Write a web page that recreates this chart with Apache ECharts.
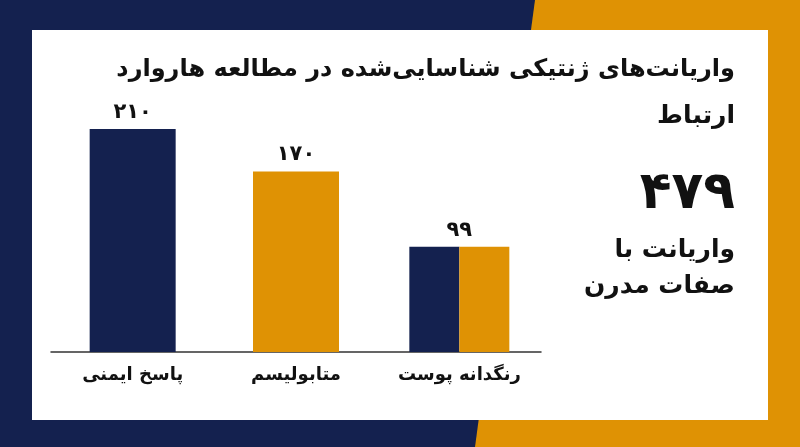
<!DOCTYPE html><html><head><meta charset="utf-8"><script src="https://cdn.jsdelivr.net/npm/echarts@6/dist/echarts.min.js"></script>
<style>html,body{margin:0;padding:0}#c{width:800px;height:447px}</style></head><body><div id="c"></div><script>
const categories=['پاسخ ایمنی','متابولیسم','رنگدانه پوست'];
const values=[210,170,99];
const valueLabels=['۲۱۰','۱۷۰','۹۹'];
const NAVY='#14214f',ORANGE='#df9204';
const F='DejaVu Sans';
const chart=echarts.init(document.getElementById('c'));
chart.setOption({
 backgroundColor:NAVY,
 graphic:[
  {type:'polygon',shape:{points:[[535,0],[800,0],[800,447],[475,447]]},style:{fill:ORANGE},z:-10},
  {type:'rect',shape:{x:32,y:30,width:736,height:390},style:{fill:'#fff'},z:-9},
  {type:'text',right:65,top:58,style:{text:'واریانت‌های ژنتیکی شناسایی‌شده در مطالعه هاروارد',font:'bold 24px '+F,fill:'#111',textAlign:'right'}},
  {type:'text',right:65,top:104,style:{text:'ارتباط',font:'bold 25px '+F,fill:'#111'}},
  {type:'text',right:65,top:168,style:{text:'۴۷۹',font:'bold 52px '+F,fill:'#111'}},
  {type:'text',right:65,top:238,style:{text:'واریانت با',font:'bold 25px '+F,fill:'#111'}},
  {type:'text',right:65,top:274,style:{text:'صفات مدرن',font:'bold 25px '+F,fill:'#111'}}
 ],
 grid:{left:51,width:490,top:129,bottom:95},
 xAxis:[
  {type:'category',data:categories,axisTick:{show:false},axisLine:{lineStyle:{color:'#333',width:1.5}},
   axisLabel:{fontFamily:F,fontWeight:'bold',fontSize:18,color:'#111',margin:14}},
  {type:'category',data:categories,show:false}
 ],
 yAxis:{type:'value',min:0,max:210,show:false,splitLine:{show:false}},
 series:[
  {type:'bar',xAxisIndex:0,barWidth:86,
   data:values.map((v,i)=>({value:v,itemStyle:{color:i===0?NAVY:(i===1?ORANGE:'rgba(0,0,0,0)')}})),
   label:{show:true,position:'top',distance:6,fontFamily:F,fontWeight:'bold',fontSize:21,color:'#111',formatter:p=>valueLabels[p.dataIndex]}},
  {type:'bar',xAxisIndex:1,barWidth:50,barGap:'0%',data:['-','-',values[2]],itemStyle:{color:NAVY}},
  {type:'bar',xAxisIndex:1,barWidth:50,barGap:'0%',data:['-','-',values[2]],itemStyle:{color:ORANGE}}
 ]
});
</script></body></html>
